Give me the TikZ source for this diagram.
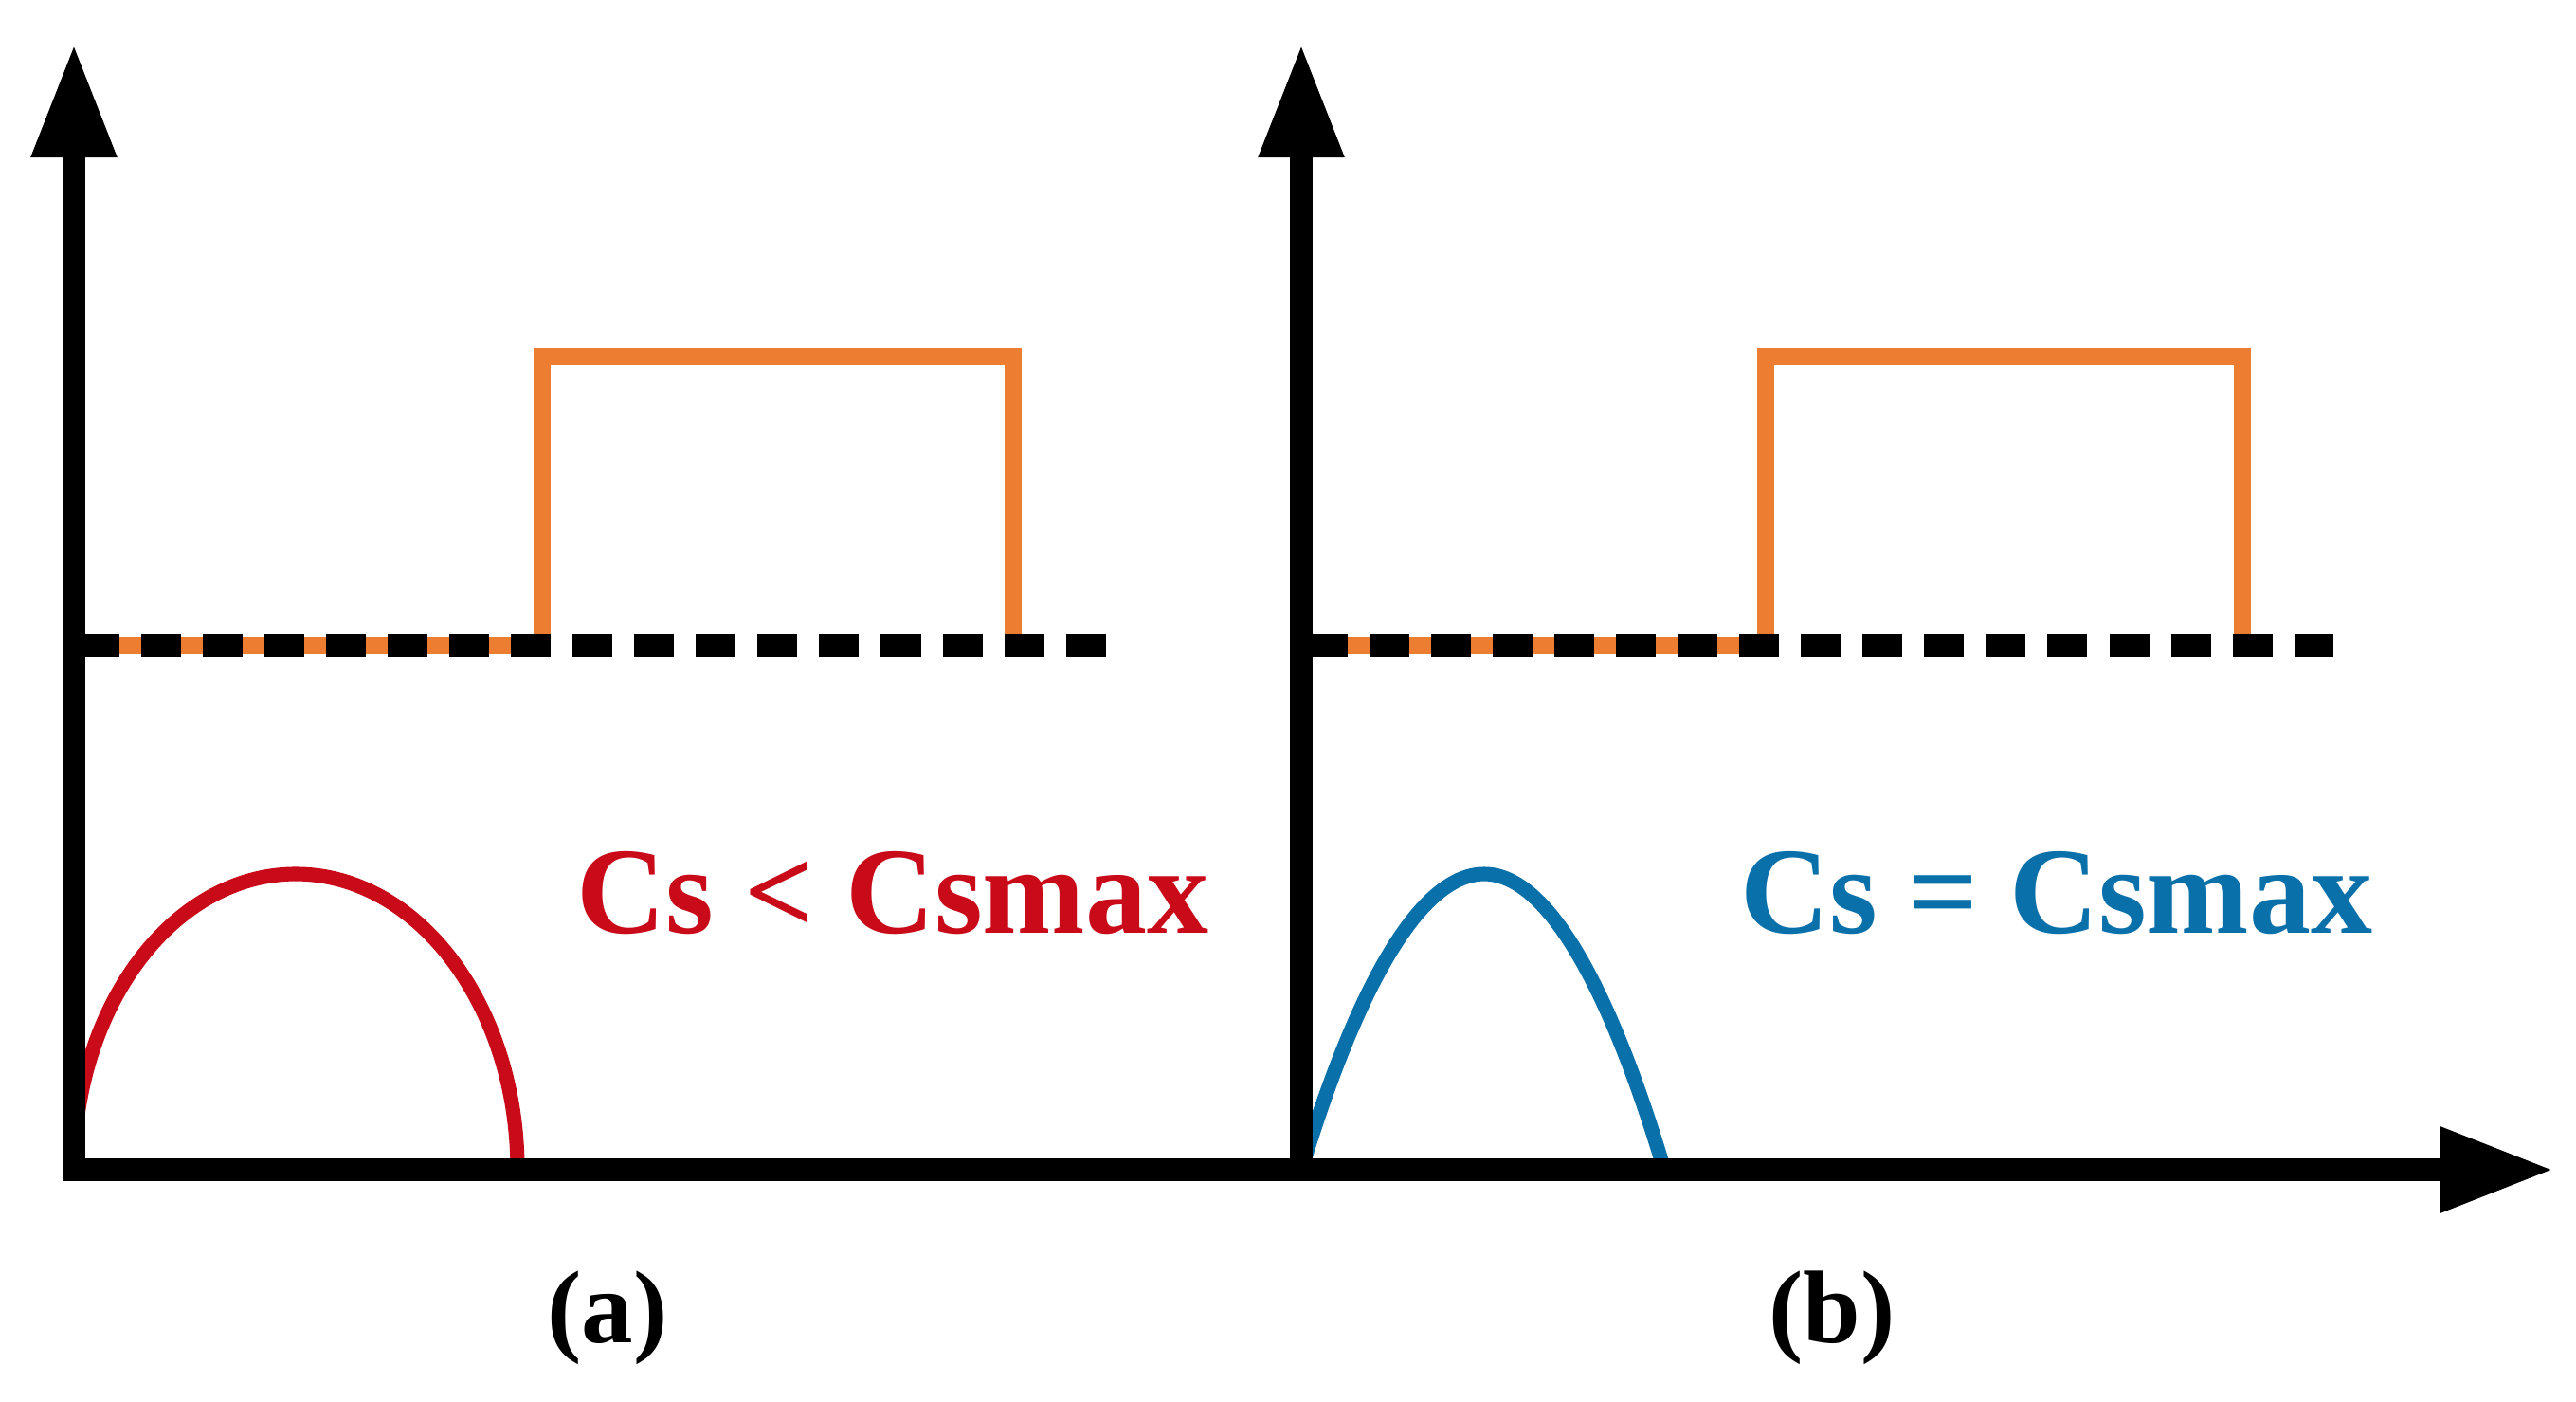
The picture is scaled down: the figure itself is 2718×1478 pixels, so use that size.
\documentclass[tikz,border=0pt]{standalone}
\usepackage{fontspec}
\setmainfont{Liberation Serif}
\usetikzlibrary{arrows.meta}
\definecolor{cred}{RGB}{200,10,25}
\definecolor{cblue}{RGB}{10,112,170}
\definecolor{corange}{RGB}{237,125,49}
\tikzset{
  axisline/.style={line width=6.8pt,-{Triangle[length=1.2cm,width=0.84cm]}},
  orangeline/.style={corange,line width=5.2pt},
  dashline/.style={black,line width=7pt,dash pattern=on 0.42cm off 0.23cm},
  curvered/.style={cred,line width=4.3pt},
  curveblue/.style={cblue,line width=4.3pt},
  condlabel/.style={font=\bfseries\fontsize{37}{40}\selectfont,inner sep=0pt},
  panellabel/.style={font=\bfseries\fontsize{31}{36}\selectfont,inner sep=0pt}
}
\begin{document}
\begin{tikzpicture}[x=0.01cm,y=-0.01cm]
\useasboundingbox (0,0) rectangle (2718,1478);
% coordinates
\coordinate (oa) at (78,1234);
\coordinate (ta) at (78,46);
\coordinate (ob) at (1373,1234);
\coordinate (tb) at (1373,46);
\coordinate (xt) at (2695,1234);
% dashed levels
\coordinate (da0) at (84,681);
\coordinate (da1) at (1170,681);
\coordinate (db0) at (1380,681);
\coordinate (db1) at (2462,681);
% orange pulses
\coordinate (pa1) at (572,681);
\coordinate (pa2) at (572,376);
\coordinate (pa3) at (1069,376);
\coordinate (pa4) at (1069,681);
\coordinate (pb1) at (1863,681);
\coordinate (pb2) at (1863,376);
\coordinate (pb3) at (2366,376);
\coordinate (pb4) at (2366,681);
% orange signals
\draw[orangeline] (da0) -- (pa1) -- (pa2) -- (pa3) -- (pa4);
\draw[orangeline] (db0) -- (pb1) -- (pb2) -- (pb3) -- (pb4);
% dashed lines
\draw[dashline] (da0) -- (da1);
\draw[dashline] (db0) -- (db1);
% curves
\draw[curvered] (oa) arc[start angle=180,end angle=360,x radius=234,y radius=312];
\draw[curveblue] (ob) parabola bend (1566,922) (1756,1234);
% axes
\draw[axisline] (oa) -- (ta);
\draw[axisline] (ob) -- (tb);
\draw[axisline] ([xshift=-3.4pt]oa) -- (xt);
% labels
\node[condlabel,text=cred] (ca) at (942,942) {Cs < Csmax};
\node[condlabel,text=cblue] (cb) at (2170,942) {Cs = Csmax};
\node[panellabel] (la) at (641,1390) {(a)};
\node[panellabel] (lb) at (1933,1390) {(b)};
\end{tikzpicture}
\end{document}
